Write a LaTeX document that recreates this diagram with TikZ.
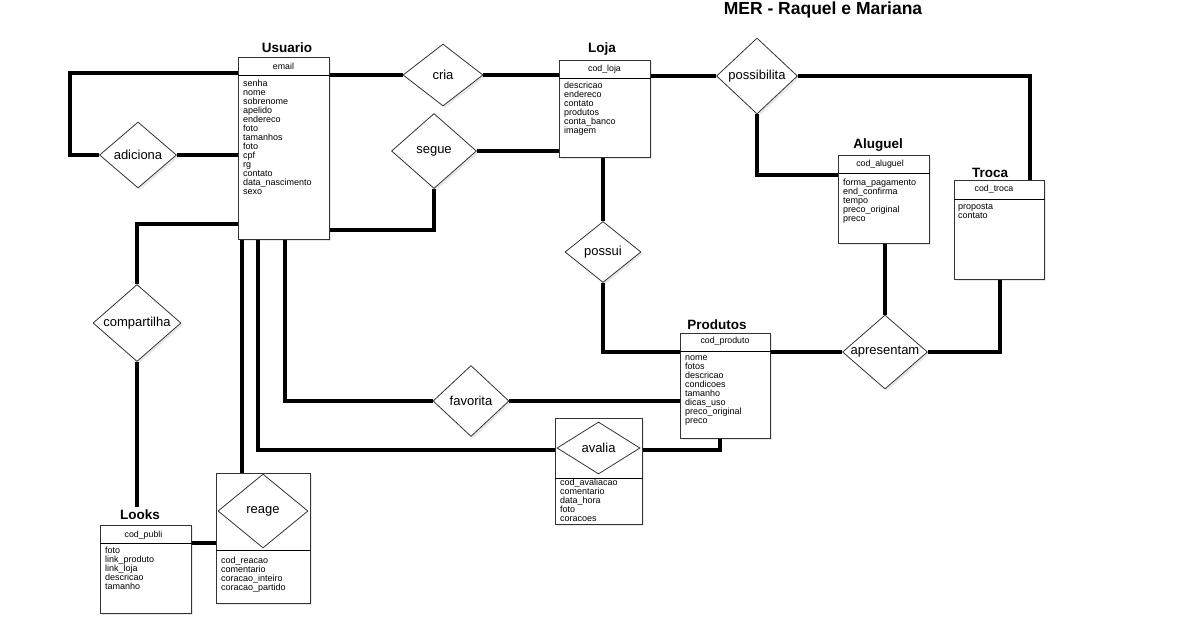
\documentclass[tikz,border=0pt]{standalone}
\usepackage{fontspec}
\setmainfont{Liberation Sans}
\usetikzlibrary{shapes.geometric,shadows}

\begin{document}
\begin{tikzpicture}
	[x=1pt,y=-1pt,
	 soft/.style={drop shadow={opacity=0.18,shadow xshift=2pt,shadow yshift=-2pt}},
	 entbox/.style={draw=black!80,line width=0.8,fill=white,anchor=north west,inner sep=0,soft},
	 enttitle/.style={font=\fontsize{13.5}{15}\selectfont\bfseries},
	 keyattr/.style={font=\fontsize{8.8}{9}\selectfont,inner sep=0},
	 attrs/.style={anchor=north west,align=left,inner sep=0,font=\fontsize{9}{9}\selectfont},
	 relbase/.style={diamond,draw=black!80,line width=0.8,fill=white,inner sep=0,aspect=1.2,font=\fontsize{13}{15}\selectfont},
	 rel/.style={relbase,soft},
	 line/.style={-,line width=4}]

	\path [use as bounding box] (0,0) rectangle (1200,622);

	\node[font=\fontsize{17.5}{20}\selectfont\bfseries,anchor=north,inner sep=0] (title) at (823,1.5) {MER - Raquel e Mariana};

	% entidades
	\node[entbox,minimum width=91,minimum height=182] (usuario) at (238,57) {};
	\node[enttitle] (usuario-title) at (287,48) {Usuario};
	\node[keyattr] (usuario-key) at (283.5,66) {email};
	\draw (usuario.west |- 0,75) -- (usuario.east |- 0,75);
	\node[attrs] (usuario-attr) at (243,80) {senha\\nome\\sobrenome\\apelido\\endereco\\foto\\tamanhos\\foto\\cpf\\rg\\contato\\data\_nascimento\\sexo};

	\node[entbox,minimum width=91,minimum height=97] (loja) at (559,60) {};
	\node[enttitle] (loja-title) at (602,49) {Loja};
	\node[keyattr] (loja-key) at (604.5,69) {cod\_loja};
	\draw (loja.west |- 0,78) -- (loja.east |- 0,78);
	\node[attrs] (loja-attr) at (564,82) {descricao\\endereco\\contato\\produtos\\conta\_banco\\imagem};

	\node[entbox,minimum width=91,minimum height=88] (aluguel) at (838,155) {};
	\node[enttitle] (aluguel-title) at (878,145) {Aluguel};
	\node[keyattr] (aluguel-key) at (880,164) {cod\_aluguel};
	\draw (aluguel.west |- 0,173) -- (aluguel.east |- 0,173);
	\node[attrs] (aluguel-attr) at (843,179) {forma\_pagamento\\end\_confirma\\tempo\\preco\_original\\preco};

	\node[entbox,minimum width=90,minimum height=99] (troca) at (954,180) {};
	\node[enttitle] (troca-title) at (990,173) {Troca};
	\node[keyattr] (troca-key) at (994,189) {cod\_troca};
	\draw (troca.west |- 0,199) -- (troca.east |- 0,199);
	\node[attrs] (troca-attr) at (958,203) {proposta\\contato};

	\node[entbox,minimum width=90,minimum height=105] (produtos) at (680,333) {};
	\node[enttitle] (produtos-title) at (717,325) {Produtos};
	\node[keyattr] (produtos-key) at (725,341) {cod\_produto};
	\draw (produtos.west |- 0,351) -- (produtos.east |- 0,351);
	\node[attrs] (produtos-attr) at (685,355) {nome\\fotos\\descricao\\condicoes\\tamanho\\dicas\_uso\\preco\_original\\preco};

	\node[entbox,minimum width=91,minimum height=88] (looks) at (100,525) {};
	\node[enttitle] (looks-title) at (140,515) {Looks};
	\node[keyattr] (looks-key) at (143.5,535) {cod\_publi};
	\draw (looks.west |- 0,543) -- (looks.east |- 0,543);
	\node[attrs] (looks-attr) at (105,547) {foto\\link\_produto\\link\_loja\\descricao\\tamanho};

	% entidades associativas
	\node[entbox,minimum width=87,minimum height=106] (avalia) at (555,418) {};
	\node[relbase,minimum width=83,minimum height=52] (avalia-rel) at (598.5,448) {avalia};
	\draw (avalia.west |- 0,478) -- (avalia.east |- 0,478);
	\node[attrs] (avalia-attr) at (560,479) {cod\_avaliacao\\comentario\\data\_hora\\foto\\coracoes};

	\node[entbox,minimum width=94,minimum height=130] (reage) at (216,473) {};
	\node[relbase,minimum width=90,minimum height=74] (reage-rel) at (263,511) {reage};
	\draw (reage.west |- 0,550) -- (reage.east |- 0,550);
	\node[attrs] (reage-attr) at (221,557) {cod\_reacao\\comentario\\coracao\_inteiro\\coracao\_partido};

	% relacionamentos
	\node[rel,minimum width=80,minimum height=62] (cria)        at (443,75)  {cria};
	\node[rel,minimum width=77,minimum height=66] (adiciona)    at (138,155) {adiciona};
	\node[rel,minimum width=85,minimum height=75] (segue)       at (434,151) {segue};
	\node[rel,minimum width=81,minimum height=76] (possibilita) at (757,76)  {possibilita};
	\node[rel,minimum width=76,minimum height=61] (possui)      at (603,252) {possui};
	\node[rel,minimum width=88,minimum height=77] (compartilha) at (137,323) {compartilha};
	\node[rel,minimum width=85,minimum height=74] (apresentam)  at (885,352) {apresentam};
	\node[rel,minimum width=76,minimum height=71] (favorita)    at (471,401) {favorita};

	\coordinate (adiciona-bend) at (70,155);

	\draw[line] (usuario.east |- cria.west) -- (cria.west);
	\draw[line] (cria.east) -- (loja.west |- cria.east);

	\draw[line] (usuario.west |- 0,73) -| (adiciona-bend) -- (adiciona.west);
	\draw[line] (adiciona.east) -- (usuario.west |- adiciona.east);

	\draw[line] (usuario.east |- 0,230) -| (segue.south);
	\draw[line] (segue.east) -- (loja.west |- segue.east);

	\draw[line] (loja.east |- possibilita.west) -- (possibilita.west);
	\draw[line] (possibilita.east) -| (troca.north -| 1030,0);
	\draw[line] (possibilita.south) |- (aluguel.west |- 0,175);

	\draw[line] (loja.south -| possui.north) -- (possui.north);
	\draw[line] (possui.south) |- (produtos.west |- 0,352);

	\draw[line] (produtos.east |- 0,352) -- (apresentam.west);
	\draw[line] (apresentam.north) -- (aluguel.south -| apresentam.north);
	\draw[line] (apresentam.east) -| (troca.south -| 1000,0);

	\draw[line] (usuario.west |- 0,224) -| (compartilha.north);
	\draw[line] (compartilha.south) -- (compartilha.south |- looks-title.north);

	\draw[line] (usuario.south -| 285,0) |- (favorita.west);
	\draw[line] (favorita.east) -- (produtos.west |- favorita.east);

	\draw[line] (usuario.south -| 258,0) |- (avalia.west |- 0,450);
	\draw[line] (avalia.east |- 0,450) -| (produtos.south -| 720,0);

	\draw[line] (usuario.south -| 242,0) -- (reage.north -| 242,0);
	\draw[line] (looks.east |- 0,543) -- (reage.west |- 0,543);
\end{tikzpicture}
\end{document}
